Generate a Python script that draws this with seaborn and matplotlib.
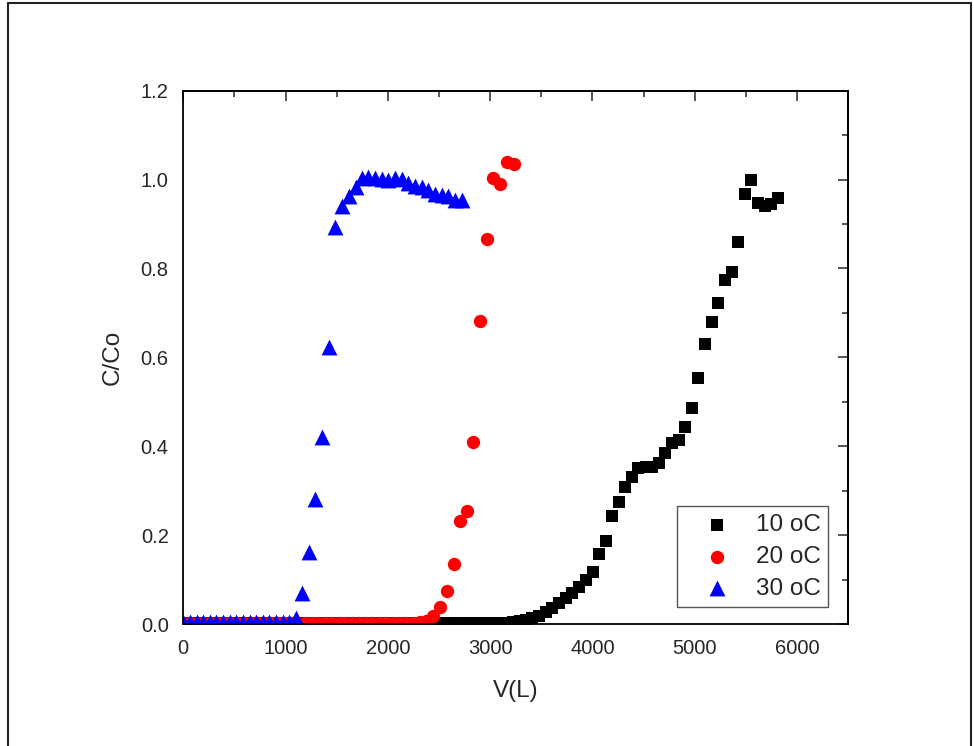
import matplotlib
matplotlib.use("Agg")
import matplotlib.pyplot as plt
from matplotlib.lines import Line2D
from matplotlib.ticker import MultipleLocator, FormatStrFormatter
import seaborn as sns
import pandas as pd

# Breakthrough data: effluent volume V (L) and relative concentration C/Co
v_10 = [0, 66, 132, 197, 263, 329, 395, 461, 526, 592, 658, 724, 790, 855, 921,
        987, 1053, 1119, 1184, 1250, 1316, 1382, 1448, 1513, 1579, 1645, 1711,
        1777, 1842, 1908, 1974, 2040, 2106, 2171, 2237, 2303, 2369, 2435, 2500,
        2566, 2632, 2698, 2764, 2829, 2895, 2961, 3027, 3093, 3158, 3224,
        3290, 3350, 3410, 3475, 3544, 3609, 3674, 3739, 3804, 3869, 3934, 4006,
        4064, 4130, 4191, 4257, 4318, 4384, 4449, 4520, 4586, 4647, 4709, 4781,
        4846, 4908, 4973, 5035, 5100, 5165, 5231, 5292, 5360, 5426, 5488, 5553,
        5617, 5682, 5748, 5813]
c_10 = [0.002, 0.002, 0.002, 0.002, 0.002, 0.002, 0.002, 0.002, 0.002, 0.002,
        0.002, 0.002, 0.002, 0.002, 0.002, 0.002, 0.002, 0.002, 0.002, 0.002,
        0.002, 0.002, 0.002, 0.002, 0.002, 0.002, 0.002, 0.002, 0.002, 0.002,
        0.002, 0.002, 0.002, 0.002, 0.002, 0.002, 0.002, 0.002, 0.002, 0.002,
        0.002, 0.002, 0.002, 0.002, 0.002, 0.002, 0.002, 0.002, 0.003, 0.004,
        0.006, 0.010, 0.014, 0.019, 0.027, 0.037, 0.047, 0.058, 0.070, 0.083,
        0.098, 0.118, 0.158, 0.186, 0.242, 0.274, 0.308, 0.330, 0.352, 0.353,
        0.353, 0.362, 0.384, 0.408, 0.413, 0.443, 0.487, 0.554, 0.629, 0.680,
        0.723, 0.773, 0.793, 0.859, 0.968, 1.000, 0.948, 0.940, 0.944, 0.958]

v_20 = [0, 66, 132, 198, 264, 330, 396, 462, 528, 594, 660, 726, 792, 858, 924,
        990, 1056, 1122, 1188, 1254, 1320, 1386, 1452, 1518, 1584, 1650, 1716,
        1782, 1848, 1914, 1980, 2046, 2112, 2178, 2244, 2310, 2376,
        2443, 2511, 2583, 2645, 2707, 2772, 2837, 2902, 2970, 3029, 3101, 3166,
        3234]
c_20 = [0.003, 0.003, 0.003, 0.003, 0.003, 0.003, 0.003, 0.003, 0.003, 0.003,
        0.003, 0.003, 0.003, 0.003, 0.003, 0.003, 0.003, 0.003, 0.003, 0.003,
        0.003, 0.003, 0.003, 0.003, 0.003, 0.003, 0.003, 0.003, 0.003, 0.003,
        0.003, 0.003, 0.003, 0.003, 0.003, 0.004, 0.006,
        0.018, 0.039, 0.075, 0.135, 0.232, 0.254, 0.409, 0.682, 0.866, 1.003,
        0.990, 1.040, 1.035]

v_30 = [0, 65, 130, 194, 259, 324, 389, 454, 518, 583, 648, 713, 778, 842, 907,
        972, 1037, 1102, 1157, 1226, 1290, 1356, 1421, 1483, 1548, 1620, 1685,
        1749, 1808, 1873, 1939, 2003, 2069, 2134, 2199, 2264, 2330, 2394, 2459,
        2525, 2589, 2655, 2720]
c_30 = [0.005, 0.005, 0.005, 0.005, 0.005, 0.005, 0.005, 0.005, 0.005, 0.005,
        0.005, 0.005, 0.005, 0.005, 0.005, 0.005, 0.005, 0.013, 0.069, 0.163,
        0.281, 0.420, 0.623, 0.894, 0.941, 0.963, 0.983, 1.004, 1.005, 1.003,
        1.002, 1.000, 1.004, 1.001, 0.993, 0.986, 0.984, 0.976, 0.968, 0.966,
        0.962, 0.953, 0.953]

labels = ["10 oC", "20 oC", "30 oC"]
colors = ["black", "red", "blue"]
markers = ["s", "o", "^"]
sizes = [72, 92, 130]

sns.set_style("white")
plt.rcParams["font.family"] = ["Liberation Sans", "DejaVu Sans"]

fig = plt.figure(figsize=(9.74, 7.46), dpi=100)
ax = fig.add_axes([0.1881, 0.1635, 0.6828, 0.7149])

series = [(v_10, c_10), (v_20, c_20), (v_30, c_30)]
for (v, c), lab, col, mk, sz in zip(series, labels, colors, markers, sizes):
    df = pd.DataFrame({"V": v, "C": c})
    sns.scatterplot(data=df, x="V", y="C", ax=ax, color=col, marker=mk,
                    s=sz, linewidth=0, label=lab)

ax.set_xlim(0, 6500)
ax.set_ylim(0, 1.2)
ax.xaxis.set_major_locator(MultipleLocator(1000))
ax.xaxis.set_minor_locator(MultipleLocator(500))
ax.yaxis.set_major_locator(MultipleLocator(0.2))
ax.yaxis.set_minor_locator(MultipleLocator(0.1))
ax.yaxis.set_major_formatter(FormatStrFormatter("%.1f"))

for sp in ax.spines.values():
    sp.set_visible(True)
    sp.set_linewidth(1.3)
    sp.set_color("black")

ax.tick_params(which="both", direction="out", width=1.1, color="black",
               labelsize=14.5, pad=3, top=False, right=False)
ax.tick_params(which="major", length=7.5)
ax.tick_params(which="minor", length=4)

# inward ticks on the top and right frame edges
top = ax.secondary_xaxis("top")
top.xaxis.set_major_locator(MultipleLocator(1000))
top.xaxis.set_minor_locator(MultipleLocator(500))
top.tick_params(which="both", direction="in", width=1.1, labeltop=False)
top.tick_params(which="major", length=7.5)
top.tick_params(which="minor", length=4)
top.spines["top"].set_linewidth(1.3)
right = ax.secondary_yaxis("right")
right.yaxis.set_major_locator(MultipleLocator(0.2))
right.yaxis.set_minor_locator(MultipleLocator(0.1))
right.tick_params(which="both", direction="in", width=1.1, labelright=False)
right.tick_params(which="major", length=7.5)
right.tick_params(which="minor", length=4)
right.spines["right"].set_linewidth(1.3)

ax.set_xlabel("V(L)", fontsize=17.5, labelpad=16)
ax.set_ylabel("C/Co", fontsize=17.5, labelpad=12)

leg = ax.legend(loc="lower right", bbox_to_anchor=(0.970, 0.031),
                borderaxespad=0, fontsize=17.5, frameon=True, fancybox=False,
                framealpha=1, edgecolor="#555555", borderpad=0.32,
                handlelength=2.6, handletextpad=0.3, labelspacing=0.4,
                markerscale=1.0)
leg.get_frame().set_linewidth(1.0)

# page border around the figure
for xs, ys in [([0.0082, 0.0082], [0.0, 0.996]),
               ([0.0082, 0.9965], [0.996, 0.996]),
               ([0.9965, 0.9965], [0.0, 0.996])]:
    fig.add_artist(Line2D(xs, ys, transform=fig.transFigure, color="#222222",
                          linewidth=1.5))

fig.savefig("out.png", dpi=100)
